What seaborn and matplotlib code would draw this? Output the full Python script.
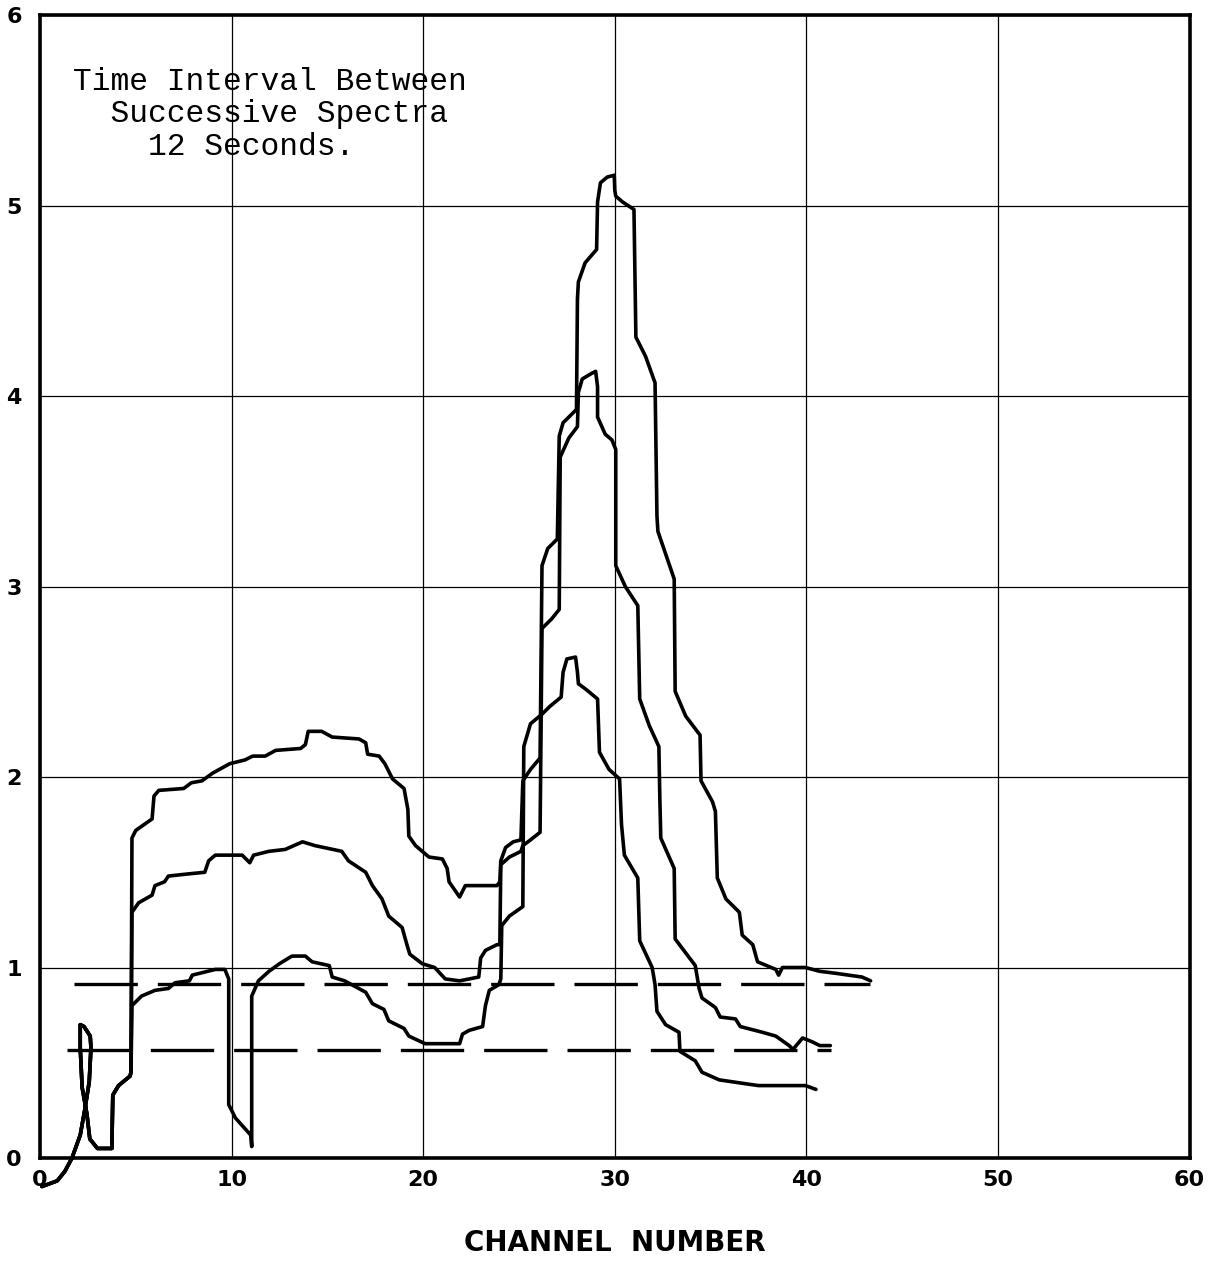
import numpy as np
import pandas as pd
import matplotlib
matplotlib.use("Agg")
import matplotlib.pyplot as plt
import seaborn as sns

# Shared start of the traces (the loop near channel 2-4)
start_x = [0.1, 0.9, 1.3, 1.67, 2.1, 2.35, 2.57, 2.66, 2.62, 2.3, 2.1, 2.1, 2.2, 2.45, 2.6,
           3.0, 3.75, 3.8, 4.1, 4.7]
start_y = [-0.15, -0.12, -0.07, 0.0, 0.12, 0.26, 0.40, 0.58, 0.64, 0.69, 0.70, 0.58, 0.37, 0.23, 0.10,
           0.05, 0.05, 0.33, 0.38, 0.43]

# Upper spectrum (peak ~5.16)
top_x = [4.75, 4.8, 5.0, 5.85, 5.95, 6.2, 7.5, 7.9, 8.45, 9.0, 9.9, 10.7, 11.1, 11.75, 12.3,
         13.6, 13.85, 14.0, 14.7, 15.25, 16.65, 17.0, 17.1, 17.7, 18.0, 18.4, 19.0, 19.2, 19.25,
         19.6, 19.95, 20.3, 21.0, 21.25, 21.35, 21.9, 22.2, 23.85, 24.0, 24.05, 24.3, 24.7, 25.1,
         25.2, 25.6, 26.1, 26.2, 26.5, 27.0, 27.1, 27.3, 28.0, 28.05, 28.1, 28.45, 29.05, 29.1,
         29.25, 29.6, 29.97, 30.0, 30.05, 30.4, 31.0, 31.1, 31.6, 32.1, 32.2, 32.25, 33.1, 33.15,
         33.7, 34.45, 34.5, 35.1, 35.25, 35.35, 35.8, 36.5, 36.65, 37.2, 37.45, 38.4, 38.55, 38.75,
         39.95, 40.7, 41.5, 42.9, 43.35]
top_y = [0.45, 1.68, 1.72, 1.78, 1.90, 1.93, 1.94, 1.97, 1.98, 2.02, 2.07, 2.09, 2.11, 2.11, 2.14,
         2.15, 2.17, 2.24, 2.24, 2.21, 2.20, 2.18, 2.12, 2.11, 2.07, 1.99, 1.94, 1.83, 1.69,
         1.64, 1.61, 1.58, 1.57, 1.52, 1.45, 1.37, 1.43, 1.43, 1.45, 1.56, 1.63, 1.66, 1.67,
         1.98, 2.04, 2.10, 3.11, 3.20, 3.25, 3.79, 3.86, 3.93, 4.51, 4.60, 4.70, 4.77, 5.02,
         5.12, 5.15, 5.16, 5.08, 5.05, 5.02, 4.98, 4.31, 4.21, 4.07, 3.37, 3.29, 3.04, 2.45,
         2.32, 2.22, 1.98, 1.87, 1.82, 1.47, 1.36, 1.29, 1.17, 1.12, 1.03, 0.99, 0.96, 1.0,
         1.0, 0.98, 0.97, 0.95, 0.93]

# Middle spectrum (peak ~4.13)
mid_x = [4.75, 4.8, 5.15, 5.85, 6.0, 6.5, 6.7, 7.6, 8.6, 8.8, 9.15, 10.55, 10.95, 11.15, 11.95,
         12.8, 13.7, 14.35, 15.75, 16.1, 17.0, 17.35, 17.85, 18.2, 18.9, 19.15, 19.3, 19.95, 20.6,
         21.15, 21.9, 22.4, 22.9, 23.0, 23.25, 23.85, 24.0, 24.05, 24.5, 25.1, 25.2, 25.6, 26.1,
         26.2, 26.7, 27.1, 27.15, 27.6, 28.05, 28.1, 28.3, 28.8, 29.0, 29.1, 29.1, 29.5, 29.85,
         30.05, 30.05, 30.55, 31.2, 31.3, 31.8, 32.3, 32.35, 32.4, 33.1, 33.15, 34.2, 34.4, 34.55,
         35.25, 35.5, 36.3, 36.55, 37.7, 38.4, 39.1, 39.3, 39.8, 40.3, 40.7, 41.25]
mid_y = [0.45, 1.29, 1.34, 1.38, 1.43, 1.45, 1.48, 1.49, 1.50, 1.56, 1.59, 1.59, 1.55, 1.59, 1.61,
         1.62, 1.66, 1.64, 1.61, 1.56, 1.50, 1.43, 1.36, 1.27, 1.21, 1.12, 1.07, 1.02, 1.0,
         0.94, 0.93, 0.94, 0.95, 1.05, 1.09, 1.12, 1.12, 1.54, 1.58, 1.61, 1.64, 1.67, 1.71,
         2.78, 2.83, 2.88, 3.68, 3.78, 3.84, 4.02, 4.09, 4.12, 4.13, 4.05, 3.89, 3.80, 3.77,
         3.72, 3.11, 3.0, 2.90, 2.41, 2.27, 2.16, 1.89, 1.68, 1.52, 1.15, 1.01, 0.89, 0.84,
         0.79, 0.74, 0.73, 0.69, 0.66, 0.64, 0.59, 0.57, 0.63, 0.61, 0.59, 0.59]

# Lower spectrum (peak ~2.62)
low_x = [4.75, 4.8, 5.3, 6.0, 6.7, 7.05, 7.8, 7.95, 9.15, 9.65, 9.85, 9.85, 10.2, 11.0, 11.05,
         11.05, 11.4, 11.95, 12.5, 13.15, 13.85, 14.2, 15.1, 15.25, 15.9, 16.45, 17.0, 17.35, 17.95,
         18.2, 19.0, 19.25, 20.1, 21.9, 22.05, 22.4, 23.1, 23.25, 23.45, 23.95, 24.05, 24.1, 24.5,
         25.2, 25.25, 25.6, 26.2, 26.6, 27.2, 27.3, 27.5, 27.95, 28.05, 28.1, 28.5, 29.1, 29.2,
         29.7, 30.25, 30.35, 30.5, 31.2, 31.3, 31.95, 32.1, 32.2, 32.65, 33.35, 33.4, 34.2, 34.55,
         35.45, 36.8, 37.5, 38.9, 39.95, 40.5]
low_y = [0.45, 0.80, 0.85, 0.88, 0.89, 0.92, 0.93, 0.96, 0.99, 0.99, 0.94, 0.28, 0.21, 0.12, 0.06,
         0.85, 0.93, 0.98, 1.02, 1.06, 1.06, 1.03, 1.01, 0.95, 0.93, 0.90, 0.87, 0.81, 0.78,
         0.72, 0.68, 0.64, 0.60, 0.60, 0.65, 0.67, 0.69, 0.80, 0.88, 0.91, 0.94, 1.22, 1.27,
         1.32, 2.16, 2.28, 2.33, 2.37, 2.42, 2.55, 2.62, 2.63, 2.55, 2.49, 2.46, 2.41, 2.13,
         2.04, 1.99, 1.75, 1.59, 1.47, 1.14, 1.0, 0.91, 0.77, 0.70, 0.66, 0.56, 0.51, 0.45,
         0.41, 0.39, 0.38, 0.38, 0.38, 0.36]

# Dashed reference levels
dash_upper_x = [1.75, 43.3]
dash_upper_y = [0.915, 0.915]
dash_lower_x = [1.4, 41.3]
dash_lower_y = [0.565, 0.565]

x_ticks = [0, 10, 20, 30, 40, 50, 60]
y_ticks = [0, 1, 2, 3, 4, 5, 6]

sns.set_style("white")
fig = plt.figure(figsize=(12.23, 12.69), dpi=100)
ax = fig.add_axes([0.0327, 0.0875, 0.940, 0.9005])

curves = [
    (start_x + low_x, start_y + low_y),
    (start_x + mid_x, start_y + mid_y),
    (start_x + top_x, start_y + top_y),
]
for cx, cy in curves:
    df = pd.DataFrame({"channel": cx, "value": cy})
    sns.lineplot(data=df, x="channel", y="value", sort=False, estimator=None, ax=ax,
                 color="black", linewidth=2.6, solid_joinstyle="round",
                 solid_capstyle="round", clip_on=False, zorder=3)

for dx, dy in [(dash_upper_x, dash_upper_y), (dash_lower_x, dash_lower_y)]:
    sns.lineplot(x=dx, y=dy, sort=False, estimator=None, ax=ax, color="black",
                 linewidth=2.4, linestyle=(0, (19, 6)), zorder=3)

ax.set_xlim(0, 60)
ax.set_ylim(0, 6)
ax.set_xticks(x_ticks)
ax.set_yticks(y_ticks)
ax.set_xticklabels([str(t) for t in x_ticks])
ax.set_yticklabels([str(t) for t in y_ticks])
ax.grid(True, color="black", linewidth=0.9)
ax.set_axisbelow(True)
ax.tick_params(axis="both", length=0, labelsize=16, labelcolor="black")
ax.tick_params(axis="x", pad=9)
ax.tick_params(axis="y", pad=13)
for lab in ax.get_xticklabels() + ax.get_yticklabels():
    lab.set_fontweight("bold")
for sp in ax.spines.values():
    sp.set_visible(True)
    sp.set_color("black")
    sp.set_linewidth(2.6)

ax.set_xlabel("CHANNEL  NUMBER", fontsize=20, fontweight="bold", labelpad=28, color="black")
ax.set_ylabel("")

ax.text(0.0287, 0.955, "Time Interval Between\n  Successive Spectra\n    12 Seconds.",
        transform=ax.transAxes, ha="left", va="top", fontsize=22.5, color="black",
        family=["Liberation Mono", "DejaVu Sans Mono"], linespacing=1.12)

fig.savefig("out.png", dpi=100)
